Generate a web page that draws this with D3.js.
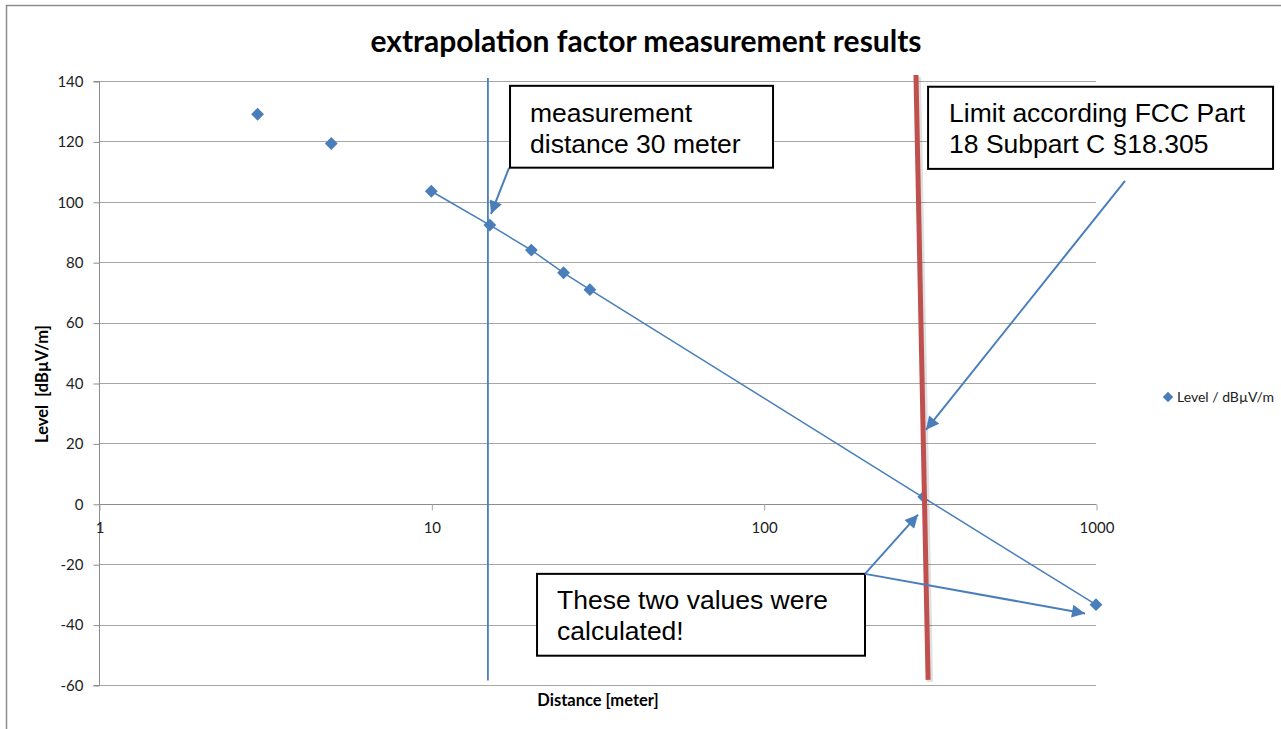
<!DOCTYPE html>
<html><head><meta charset="utf-8">
<script src="https://cdn.jsdelivr.net/npm/d3@7"></script>
<style>
html,body{margin:0;padding:0;background:#fff;}
svg{display:block;}
</style></head>
<body>
<script>
// ---- data ----
const distances = [3, 5, 10, 15, 20, 25, 30, 300, 1000];
const levels    = [129, 119.3, 103.5, 92.3, 84, 76.5, 70.9, 2.3, -33.4];
const lineDistances = [10, 15, 20, 25, 30, 300, 1000];
const lineLevels    = [103.5, 92.3, 84, 76.5, 70.9, 2.3, -33.4];
const xTicks = [1, 10, 100, 1000];
const yTicks = [-60, -40, -20, 0, 20, 40, 60, 80, 100, 120, 140];
const seriesName = "Level / dBµV/m";
const titleText = "extrapolation factor measurement results";
const xTitle = "Distance [meter]";
const yTitle = "Level  [dBµV/m]";
const box1Lines = ["measurement", "distance 30 meter"];
const box2Lines = ["Limit according FCC Part", "18 Subpart C §18.305"];
const box3Lines = ["These two values were", "calculated!"];

const W = 1281, H = 729;
const svg = d3.select("body").append("svg").attr("width", W).attr("height", H);

// outer frame
svg.append("rect").attr("x", 6.5).attr("y", 5.5).attr("width", W + 20).attr("height", H + 20)
  .attr("fill", "none").attr("stroke", "#8c8c8c").attr("stroke-width", 1.5);

const x = d3.scaleLog().domain([1, 1000]).range([99, 1096]);
const y = d3.scaleLinear().domain([-60, 140]).range([685, 81]);

const blue = "#4a7ebb";
const fontAxis = "Lato, 'Open Sans', sans-serif";
const fontBox = "'Liberation Sans', Arial, sans-serif";

// gridlines
svg.append("g").selectAll("line").data(yTicks).join("line")
  .attr("x1", x(1)).attr("x2", x(1000))
  .attr("y1", d => Math.round(y(d)) + 0.5).attr("y2", d => Math.round(y(d)) + 0.5)
  .attr("stroke", "#a6a6a6").attr("stroke-width", 1);

// y axis
const yAxis = d3.axisLeft(y).tickValues(yTicks).tickSize(6).tickPadding(10).tickFormat(d => String(d));
const gy = svg.append("g").attr("transform", `translate(${x(1)+0.5},0.5)`).call(yAxis);
gy.select(".domain").attr("stroke", "#8c8c8c").attr("d", `M-6,${y(-60)}H0V${y(140)}H-6`);
gy.selectAll(".tick line").attr("stroke", "#8c8c8c");
gy.selectAll(".tick text").attr("font-family", fontAxis).attr("font-size", 15).attr("fill", "#222");

// x axis at y=0
const xAxis = d3.axisBottom(x).tickValues(xTicks).tickSize(6).tickPadding(12).tickFormat(d => String(d));
const gx = svg.append("g").attr("transform", `translate(0.5,${Math.round(y(0))+0.5})`).call(xAxis);
gx.select(".domain").attr("stroke", "#8c8c8c").attr("d", `M${x(1)},0H${x(1000)}`);
gx.selectAll(".tick line").attr("stroke", "#a6a6a6");
gx.selectAll(".tick text").attr("font-family", fontAxis).attr("font-size", 15).attr("fill", "#222");

// title
svg.append("text").attr("x", 646).attr("y", 52).attr("text-anchor", "middle")
  .attr("font-family", fontAxis).attr("font-weight", "bold").attr("font-size", 30).attr("fill", "#000")
  .text(titleText);

// axis titles
svg.append("text").attr("x", 598).attr("y", 706).attr("text-anchor", "middle")
  .attr("font-family", fontAxis).attr("font-weight", "bold").attr("font-size", 16.5).attr("fill", "#000")
  .text(xTitle);
svg.append("text").attr("transform", "translate(48,384) rotate(-90)").attr("text-anchor", "middle")
  .style("white-space", "pre")
  .attr("font-family", fontAxis).attr("font-weight", "bold").attr("font-size", 16.5).attr("fill", "#000")
  .text(yTitle);

// series line
const line = d3.line().x(d => x(d[0])).y(d => y(d[1]));
svg.append("path").datum(d3.zip(lineDistances, lineLevels)).attr("d", line)
  .attr("fill", "none").attr("stroke", blue).attr("stroke-width", 1.5);

// vertical measurement line (at ~15 m)
svg.append("line").attr("x1", x(14.8)).attr("x2", x(14.8)).attr("y1", y(141)).attr("y2", y(-58.5))
  .attr("stroke", blue).attr("stroke-width", 1.8);

// markers
const sym = d3.symbol().type(d3.symbolDiamond2).size(105);
svg.append("g").selectAll("path").data(d3.zip(distances, levels)).join("path")
  .attr("transform", d => `translate(${x(d[0])},${y(d[1])})`)
  .attr("d", d => (d[0] === 300 ? d3.symbol().type(d3.symbolDiamond2).size(60)() : sym()))
  .attr("fill", blue);

// red limit line with shadow
svg.append("line").attr("x1", x(287.3) + 2).attr("y1", y(142) + 2).attr("x2", x(312.4) + 2).attr("y2", y(-58.3) + 2)
  .attr("stroke", "#000").attr("stroke-opacity", 0.12).attr("stroke-width", 6);
svg.append("line").attr("x1", x(287.3)).attr("y1", y(142)).attr("x2", x(312.4)).attr("y2", y(-58.3))
  .attr("stroke", "#c0504d").attr("stroke-width", 5);

// arrow marker
const defs = svg.append("defs");
defs.append("marker").attr("id", "arr").attr("viewBox", "0 0 10 10").attr("refX", 10).attr("refY", 5)
  .attr("markerUnits", "userSpaceOnUse").attr("markerWidth", 17).attr("markerHeight", 13).attr("orient", "auto")
  .append("path").attr("d", "M0,0L10,5L0,10Z").attr("fill", blue);

function arrow(d0, v0, d1, v1) {
  svg.append("line").attr("x1", x(d0)).attr("y1", y(v0)).attr("x2", x(d1)).attr("y2", y(v1))
    .attr("stroke", blue).attr("stroke-width", 2).attr("marker-end", "url(#arr)");
}
function box(d0, v0, d1, v1, lines, padX, base1, gap) {
  const bx = x(d0), by = y(v0), bw = x(d1) - x(d0), bh = y(v1) - y(v0);
  svg.append("rect").attr("x", bx).attr("y", by).attr("width", bw).attr("height", bh)
    .attr("fill", "#fff").attr("stroke", "#000").attr("stroke-width", 2);
  svg.append("g").selectAll("text").data(lines).join("text")
    .attr("x", bx + padX).attr("y", (d, i) => by + base1 + i * gap)
    .attr("font-family", fontBox).attr("font-size", 26.5).attr("fill", "#000").text(d => d);
}

// callout 1
arrow(17.13, 111.26, 15.12, 96.0);
box(17.25, 138.4, 106.7, 111.3, box1Lines, 20, 36, 31);
// callout 2
arrow(1223, 106.95, 308.0, 24.5);
box(312.4, 138.1, 3410, 110.9, box2Lines, 21, 35, 31);
// callout 3
box(20.8, -23.2, 201.8, -50.3, box3Lines, 20, 35, 31);
arrow(201.8, -23.2, 291.3, -3.6);
arrow(201.8, -23.2, 926.8, -36.3);

// legend
const lg = svg.append("g").attr("transform", "translate(1168,397)");
lg.append("path").attr("d", d3.symbol().type(d3.symbolDiamond2).size(70)()).attr("fill", blue);
lg.append("text").attr("x", 9).attr("y", 5).attr("font-family", fontAxis).attr("font-size", 14)
  .attr("fill", "#222").text(seriesName);
</script>
</body></html>
